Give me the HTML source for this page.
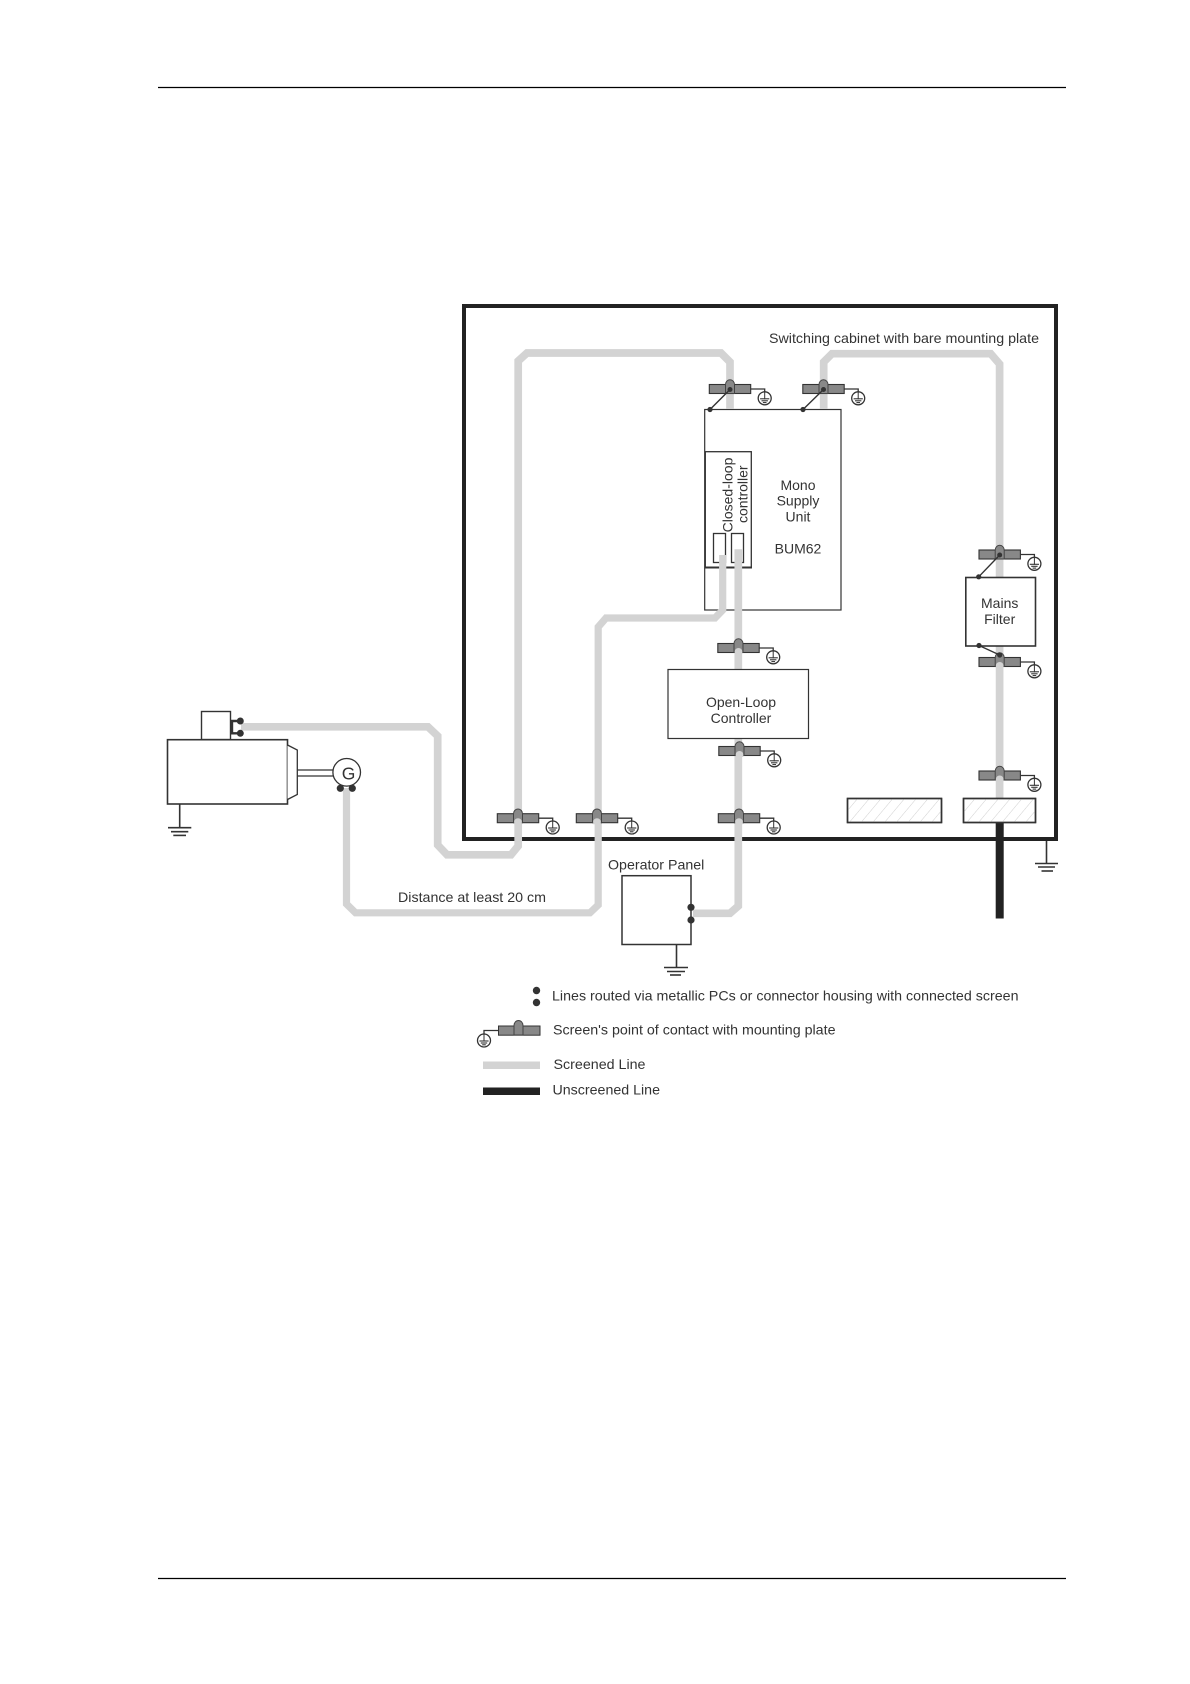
<!DOCTYPE html>
<html>
<head>
<meta charset="utf-8">
<style>
html,body{margin:0;padding:0;background:#fff;}
svg{display:block;}
text{font-family:"Liberation Sans",sans-serif;font-size:14px;fill:#333;}
.m{text-anchor:middle;}
.box{fill:#fff;stroke:#333;stroke-width:1.2;}
.box2{fill:#fff;stroke:#333;stroke-width:1.6;}
.scr{fill:none;stroke:#d3d3d3;stroke-width:7.7;stroke-linejoin:miter;}
.wire{fill:none;stroke:#333;stroke-width:1.3;}
.gnd{fill:none;stroke:#333;stroke-width:1.6;}
</style>
</head>
<body>
<svg width="1190" height="1684" viewBox="0 0 1190 1684" xmlns="http://www.w3.org/2000/svg">
<defs>
  <pattern id="hatch" width="9" height="9" patternUnits="userSpaceOnUse" patternTransform="rotate(40)">
    <line x1="0" y1="0" x2="0" y2="9" stroke="#c4c4c4" stroke-width="0.8"/>
  </pattern>
  <g id="earth">
    <circle cx="0" cy="0" r="6.5" fill="#fff" stroke="#333" stroke-width="1.3"/>
    <line x1="0" y1="-6" x2="0" y2="1" stroke="#333" stroke-width="1"/>
    <line x1="-4.6" y1="0.5" x2="4.6" y2="0.5" stroke="#333" stroke-width="1.1"/>
    <line x1="-3.2" y1="2.5" x2="3.2" y2="2.5" stroke="#333" stroke-width="1.1"/>
    <line x1="-1.8" y1="4.3" x2="1.8" y2="4.3" stroke="#333" stroke-width="1.1"/>
  </g>
  <g id="clamp">
    <path d="M21,0 H34.7 V4" class="wire"/>
    <rect x="-20.7" y="-4.5" width="41.4" height="9" fill="#888" stroke="#333" stroke-width="1.1"/>
    <path d="M-4.5,4.5 V-4.5 A4.5,4.7 0 0 1 4.5,-4.5 V4.5 Z" fill="#888" stroke="#444" stroke-width="1"/>
    <path d="M-3.8,6 V3.4 A3.8,3.4 0 0 1 3.8,3.4 V6 Z" fill="#d3d3d3"/>
    <use href="#earth" x="34.7" y="9.3"/>
  </g>
  <g id="clampd">
    <path d="M21,0 H34.7 V4" class="wire"/>
    <rect x="-20.7" y="-4.5" width="41.4" height="9" fill="#888" stroke="#333" stroke-width="1.1"/>
    <path d="M-4.5,4.5 V-4.5 A4.5,4.7 0 0 1 4.5,-4.5 V4.5 Z" fill="#888" stroke="#444" stroke-width="1"/>
    <circle cx="0" cy="0.5" r="2.5" fill="#333"/>
    <use href="#earth" x="34.7" y="9.3"/>
  </g>
</defs>

<rect width="1190" height="1684" fill="#fff"/>

<!-- page rules -->
<line x1="158" y1="87.5" x2="1066" y2="87.5" stroke="#000" stroke-width="1.2"/>
<line x1="158" y1="1578.5" x2="1066" y2="1578.5" stroke="#000" stroke-width="1.2"/>

<!-- cabinet -->
<rect x="464" y="306" width="592" height="533" fill="#fff" stroke="#222" stroke-width="4"/>

<!-- mono supply unit -->
<rect x="704.7" y="409.5" width="136.3" height="200.5" class="box"/>
<rect x="705.3" y="451.7" width="46" height="116" fill="#fff" stroke="#333" stroke-width="1.3"/>
<line x1="705" y1="567.5" x2="752" y2="567.5" stroke="#333" stroke-width="2"/>
<rect x="713.5" y="533.5" width="12" height="29" fill="#fff" stroke="#333" stroke-width="1.3"/>
<rect x="731.5" y="533.5" width="12" height="29" fill="#fff" stroke="#333" stroke-width="1.3"/>

<!-- unscreened line -->
<line x1="999.7" y1="822" x2="999.7" y2="918.5" stroke="#222" stroke-width="8"/>

<!-- screened lines -->
<path class="scr" d="M241,726.8 H428 L437.7,736 V845 L447,854.8 H511 L518.2,846 V361 L527,353 H721 L730,362 V409"/>
<path class="scr" d="M346.5,788 V904 L355.5,912.8 H590 L598.2,905 V627 L606,618 H715 L722.7,610 V555" style="stroke-width:7.2"/>
<path class="scr" d="M693,913.3 H730 L738.3,906 V549.3"/>
<path class="scr" d="M823.7,409 V362 L832,353.7 H990.7 L999.6,364 V798"/>

<!-- boxes over lines -->
<rect x="668" y="669.5" width="140.5" height="69" class="box"/>
<rect x="965.8" y="577.5" width="69.7" height="68.5" class="box2"/>

<!-- hatched -->
<rect x="847.5" y="798.5" width="94" height="24" fill="#fff" stroke="#333" stroke-width="1.5"/>
<rect x="847.5" y="798.5" width="94" height="24" fill="url(#hatch)" stroke="#333" stroke-width="1.5"/>
<rect x="963.5" y="798.5" width="72" height="24" fill="#fff" stroke="#333" stroke-width="1.5"/>
<rect x="963.5" y="798.5" width="72" height="24" fill="url(#hatch)" stroke="#333" stroke-width="1.5"/>

<!-- clamps -->
<use href="#clampd" x="730" y="389"/>
<line x1="730" y1="389.5" x2="710" y2="409.5" stroke="#333" stroke-width="1.4"/>
<circle cx="710" cy="409.5" r="2.6" fill="#333"/>

<use href="#clampd" x="823.5" y="389"/>
<line x1="823.5" y1="389.5" x2="803" y2="409.5" stroke="#333" stroke-width="1.4"/>
<circle cx="803" cy="409.5" r="2.6" fill="#333"/>

<use href="#clampd" x="999.7" y="554.5"/>
<line x1="999.7" y1="555" x2="978.7" y2="576.8" stroke="#333" stroke-width="1.4"/>
<circle cx="978.7" cy="576.8" r="2.6" fill="#333"/>

<use href="#clamp" x="738.5" y="648"/>
<use href="#clamp" x="739.5" y="751"/>
<use href="#clamp" x="739" y="818.2"/>
<use href="#clamp" x="999.7" y="662"/>
<line x1="999.7" y1="655" x2="979" y2="645.5" stroke="#333" stroke-width="1.3"/>
<circle cx="979" cy="645.5" r="2.6" fill="#333"/>
<circle cx="999.7" cy="655" r="2.6" fill="#333"/>
<use href="#clamp" x="999.7" y="775.5"/>
<use href="#clamp" x="518" y="818.2"/>
<use href="#clamp" x="597" y="818.2"/>

<!-- motor -->
<rect x="167.5" y="739.7" width="120" height="64.3" fill="#fff" stroke="#333" stroke-width="1.6"/>
<rect x="201.5" y="711.5" width="29" height="28" fill="#fff" stroke="#333" stroke-width="1.4"/>
<path d="M287.5,745 L297.3,750 V794.5 L287.5,799.5" fill="#fff" stroke="#333" stroke-width="1.3"/>
<line x1="297.5" y1="770" x2="333.5" y2="770" stroke="#333" stroke-width="1.3"/>
<line x1="297.5" y1="776" x2="333.5" y2="776" stroke="#333" stroke-width="1.3"/>
<circle cx="346.7" cy="772.3" r="13.8" fill="#fff" stroke="#333" stroke-width="1.3"/>
<text x="348.5" y="779.5" class="m" style="font-size:17.5px">G</text>
<circle cx="340.3" cy="788.3" r="3.6" fill="#333"/>
<circle cx="352.3" cy="788.3" r="3.6" fill="#333"/>
<path d="M240.3,721 H232 V733.3 H240.3" fill="none" stroke="#333" stroke-width="2.4"/>
<circle cx="240.3" cy="721" r="3.5" fill="#333"/>
<circle cx="240.3" cy="733.3" r="3.5" fill="#333"/>

<!-- motor ground -->
<line x1="179.7" y1="804" x2="179.7" y2="827.5" class="gnd"/>
<line x1="168" y1="827.7" x2="191.3" y2="827.7" class="gnd"/>
<line x1="171" y1="831.7" x2="188.3" y2="831.7" class="gnd"/>
<line x1="173.3" y1="835.4" x2="186" y2="835.4" class="gnd"/>

<!-- operator panel -->
<rect x="622" y="875.7" width="69" height="68.8" fill="#fff" stroke="#333" stroke-width="1.5"/>
<circle cx="691" cy="907.3" r="3.6" fill="#333"/>
<circle cx="691" cy="920" r="3.6" fill="#333"/>
<line x1="676.5" y1="944.5" x2="676.5" y2="967" class="gnd"/>
<line x1="664" y1="967.5" x2="688" y2="967.5" class="gnd"/>
<line x1="667" y1="971.5" x2="685" y2="971.5" class="gnd"/>
<line x1="670" y1="975" x2="681" y2="975" class="gnd"/>

<!-- cabinet ground -->
<line x1="1046.5" y1="841" x2="1046.5" y2="863" class="gnd"/>
<line x1="1035" y1="863.5" x2="1058" y2="863.5" class="gnd"/>
<line x1="1038" y1="867" x2="1055" y2="867" class="gnd"/>
<line x1="1041.5" y1="871" x2="1053" y2="871" class="gnd"/>

<!-- labels -->
<text x="769" y="343" textLength="270" lengthAdjust="spacingAndGlyphs">Switching cabinet with bare mounting plate</text>
<text x="798" y="490" class="m">Mono</text>
<text x="798" y="505.7" class="m">Supply</text>
<text x="798" y="521.7" class="m">Unit</text>
<text x="798" y="553.5" class="m">BUM62</text>
<text transform="translate(732.3,495) rotate(-90)" class="m">Closed-loop</text>
<text transform="translate(747.5,494.2) rotate(-90)" class="m">controller</text>
<text x="999.7" y="608" class="m">Mains</text>
<text x="999.7" y="624" class="m">Filter</text>
<text x="741" y="707" class="m">Open-Loop</text>
<text x="741" y="723" class="m">Controller</text>
<text x="398" y="902" textLength="148" lengthAdjust="spacingAndGlyphs">Distance at least 20 cm</text>
<text x="608" y="869.7" textLength="96.3" lengthAdjust="spacingAndGlyphs">Operator Panel</text>

<!-- legend -->
<circle cx="536.5" cy="990.5" r="3.7" fill="#333"/>
<circle cx="536.5" cy="1002.5" r="3.7" fill="#333"/>
<text x="552" y="1000.5" textLength="466.5" lengthAdjust="spacingAndGlyphs">Lines routed via metallic PCs or connector housing with connected screen</text>
<path d="M498,1030.5 H484 V1035" class="wire"/>
<rect x="498.5" y="1026" width="41.5" height="9.2" fill="#888" stroke="#333" stroke-width="1"/>
<path d="M514,1035 V1025.5 A4.5,5 0 0 1 523,1025.5 V1035 Z" fill="#888" stroke="#444" stroke-width="1"/>
<use href="#earth" x="484" y="1040.5"/>
<text x="553" y="1034.5" textLength="282.5" lengthAdjust="spacingAndGlyphs">Screen's point of contact with mounting plate</text>
<rect x="483" y="1061.5" width="57" height="7.5" fill="#d3d3d3"/>
<text x="553.5" y="1069" textLength="92" lengthAdjust="spacingAndGlyphs">Screened Line</text>
<rect x="483" y="1087.5" width="57" height="7.5" fill="#222"/>
<text x="552.5" y="1094.5" textLength="107.5" lengthAdjust="spacingAndGlyphs">Unscreened Line</text>
</svg>
</body>
</html>
